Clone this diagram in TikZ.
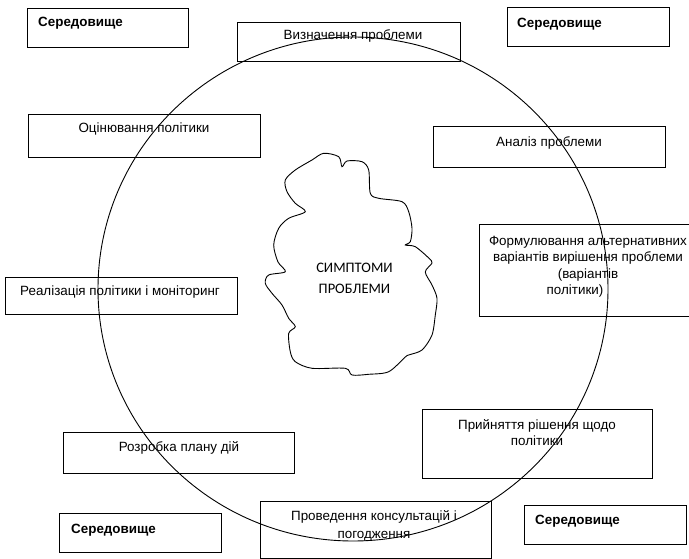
\documentclass[tikz,border=0pt]{standalone}
\usepackage{fontspec}
\setmainfont{Liberation Sans}
\newfontfamily\cloudfont{Carlito}
\begin{document}
\begin{tikzpicture}[x=1pt,y=-1pt,
  box/.style={draw,line width=0.9pt,inner sep=0pt},
  txt/.style={inner sep=0pt,font=\fontsize{13.4}{16}\selectfont},
  envtxt/.style={inner sep=0pt,anchor=base west,font=\fontsize{13.4}{16}\selectfont\bfseries},
  ring/.style={draw,line width=0.9pt},
  blob/.style={draw,line width=0.9pt}]
\useasboundingbox (0,0) rectangle (689,559);
% boxes
\node[box,minimum width=161pt,minimum height=39pt] (env1) at (107.5,27.5) {};
\node[box,minimum width=223pt,minimum height=39pt] (def) at (348.5,41.5) {};
\node[box,minimum width=162pt,minimum height=39pt] (env2) at (588,26.5) {};
\node[box,minimum width=232pt,minimum height=43pt] (eval) at (144,135.5) {};
\node[box,minimum width=232pt,minimum height=41pt] (anal) at (549,146.5) {};
\node[box,minimum width=212pt,minimum height=92pt] (form) at (585,270) {};
\node[box,minimum width=232pt,minimum height=37pt] (real) at (121,295.5) {};
\node[box,minimum width=230pt,minimum height=69pt] (dec) at (537,443.5) {};
\node[box,minimum width=231pt,minimum height=41pt] (plan) at (178.5,452.5) {};
\node[box,minimum width=231pt,minimum height=57pt] (cons) at (375.5,529.5) {};
\node[box,minimum width=162pt,minimum height=39pt] (env3) at (140,532.5) {};
\node[box,minimum width=162pt,minimum height=39pt] (env4) at (605,524.5) {};
% texts
\node[envtxt] (t1) at (38,27) {Середовище};
\node[envtxt] (t3) at (517,28) {Середовище};
\node[envtxt] (t11) at (71,533) {Середовище};
\node[envtxt] (t12) at (535,524) {Середовище};
\node[txt,anchor=base] (t2) at (353,39.5) {Визначення проблеми};
\node[txt,anchor=base] (t4) at (144,132.5) {Оцінювання політики};
\node[txt,anchor=base] (t5) at (549,146.5) {Аналіз проблеми};
\node[txt,anchor=base] (t7) at (120,295.5) {Реалізація політики і моніторинг};
\node[txt,anchor=base] (t9) at (179,451.5) {Розробка плану дій};
\node[txt,anchor=north,align=center,font=\fontsize{13.4}{16.4}\selectfont] (t6) at (588,236)
  {Формулювання альтернативних\\варіантів вирішення проблеми\\(варіантів\hspace*{22pt}\\політики)\hspace*{26pt}};
\node[txt,anchor=north,align=center,font=\fontsize{13.4}{16.3}\selectfont] (t8) at (537,419)
  {Прийняття рішення щодо\\політики};
\node[txt,anchor=north,align=center,font=\fontsize{13.4}{18}\selectfont] (t10) at (374,510)
  {Проведення консультацій і\\погодження};
% ring
\draw[ring] (353,289) ellipse [x radius=255, y radius=252];
% cloud
\draw[blob] plot[smooth cycle,tension=0.5] coordinates {
 (323.7,153.3) (338.7,156.7) (342,166.7) (347,161) (362,161.7) (368.7,170)
 (370.3,193.3) (378.7,198.3) (402,201.7) (408.7,211.7) (412,228.3) (410.3,241.7)
 (405.3,245) (415.3,246.7) (428.7,258) (432,263) (425.3,272) (432,285)
 (437,298.3) (435.3,315) (432,335) (422,350) (408.7,355) (405.3,357)
 (388.7,371.7) (368.7,374.3) (352,375) (345.3,368.3) (312,368.3) (295.3,361.7)
 (290.3,351.7) (288.7,333.3) (295.3,326.7) (288.7,318.3) (282,305) (272,293.3)
 (265.3,283.3) (268.7,275) (285.3,271.7) (278,262) (273.7,245) (278.7,228.3)
 (288.7,218.3) (305.3,211.7) (295.3,203.3) (287,191.7) (285.3,180) (295.3,170)
 (312,160)};
\node[inner sep=0pt,align=center,font=\cloudfont\fontsize{14.5}{21}\selectfont] (sym) at (354.5,278) {СИМПТОМИ\\ПРОБЛЕМИ};
\end{tikzpicture}
\end{document}
